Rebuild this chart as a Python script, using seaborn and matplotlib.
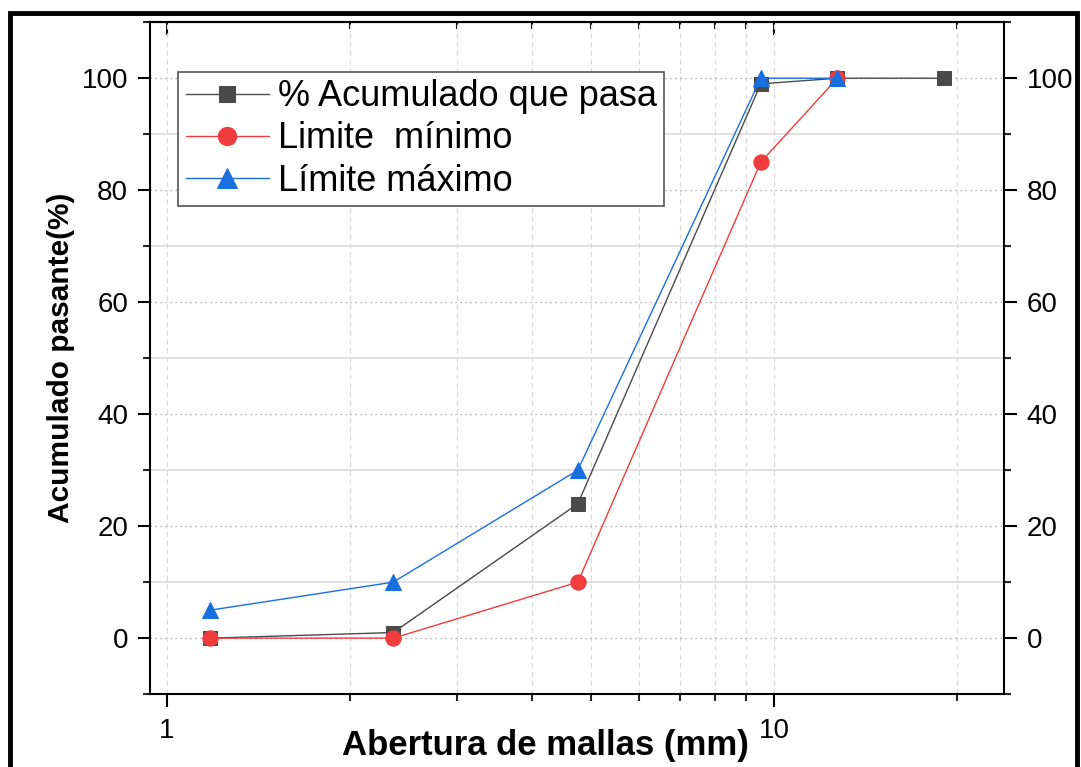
import matplotlib
matplotlib.use("Agg")
import matplotlib.pyplot as plt
import matplotlib.ticker as mticker
from matplotlib.patches import Rectangle
import seaborn as sns

# Data
abertura = [1.18, 2.36, 4.75, 9.5, 12.7, 19.0]
acumulado = [0, 1, 24, 99, 100, 100]
abertura_lim = [1.18, 2.36, 4.75, 9.5, 12.7]
lim_min = [0, 0, 10, 85, 100]
lim_max = [5, 10, 30, 100, 100]
yticks = [0, 20, 40, 60, 80, 100]

sns.set_theme(style="white")
plt.rcParams['font.family'] = ['Liberation Sans', 'DejaVu Sans']
plt.rcParams['text.color'] = 'black'
plt.rcParams['axes.labelcolor'] = 'black'

fig = plt.figure(figsize=(10.81, 7.67), dpi=100)
ax = fig.add_axes([0.139, 0.095, 0.790, 0.876])

c_blk, c_red, c_blu = '#4a4a4a', '#f03c3c', '#1a6fdf'

sns.lineplot(x=abertura, y=acumulado, ax=ax, color=c_blk, marker='s', markersize=10,
             markeredgecolor=c_blk, linewidth=1, label='% Acumulado que pasa', zorder=3)
sns.lineplot(x=abertura_lim, y=lim_min, ax=ax, color=c_red, marker='o', markersize=11,
             markeredgecolor=c_red, linewidth=1, label='Limite  mínimo', zorder=4)
sns.lineplot(x=abertura_lim, y=lim_max, ax=ax, color=c_blu, marker='^', markersize=12,
             markeredgecolor=c_blu, linewidth=1, label='Límite máximo', zorder=5)

ax.set_xscale('log')
ax.set_xlim(0.94, 23.9)
ax.set_ylim(-10, 110)
ax.set_yticks(yticks)
ax.yaxis.set_minor_locator(mticker.MultipleLocator(10))
ax.xaxis.set_major_locator(mticker.LogLocator(base=10, numticks=10))
ax.xaxis.set_minor_locator(mticker.LogLocator(base=10, subs=range(2, 10), numticks=10))
ax.xaxis.set_major_formatter(mticker.FuncFormatter(lambda v, p: f"{v:g}"))
ax.xaxis.set_minor_formatter(mticker.NullFormatter())

# grids
ax.grid(which='major', axis='y', color='#9a9a9a', linestyle=(0, (1, 3)), linewidth=0.9)
ax.grid(which='minor', axis='y', color='#dddddd', linestyle='-', linewidth=1.2)
ax.grid(which='minor', axis='x', color='#dadada', linestyle=(0, (4, 3)), linewidth=0.9)
ax.grid(which='major', axis='x', color='#dadada', linestyle=(0, (4, 3)), linewidth=0.9)
ax.set_axisbelow(True)

for s in ax.spines.values():
    s.set_visible(True)
    s.set_color('black')
    s.set_linewidth(1.5)

ax.tick_params(axis='both', which='major', direction='out', length=9, width=1.5,
               labelsize=20, colors='black', left=True, right=True, bottom=True,
               labelright=True, pad=7)
ax.tick_params(axis='both', which='minor', direction='out', length=5, width=1.5,
               left=True, right=True, bottom=True)
ax.tick_params(axis='x', which='major', pad=8)

top = ax.secondary_xaxis('top')
top.xaxis.set_major_locator(mticker.LogLocator(base=10, numticks=10))
top.xaxis.set_minor_locator(mticker.LogLocator(base=10, subs=range(2, 10), numticks=10))
top.xaxis.set_major_formatter(mticker.NullFormatter())
top.xaxis.set_minor_formatter(mticker.NullFormatter())
top.tick_params(which='major', direction='in', length=9, width=1.5, colors='black')
top.tick_params(which='minor', direction='in', length=5, width=1.5, colors='black')
top.spines['top'].set_linewidth(1.5)

ax.set_xlabel('Abertura de mallas (mm)', fontsize=25, fontweight='bold', color='black')
ax.xaxis.set_label_coords(0.4625, -0.052)
ax.set_ylabel('Acumulado pasante(%)', fontsize=21.5, fontweight='bold', labelpad=5,
              color='black')

leg = ax.legend(loc='upper left', bbox_to_anchor=(0.033, 0.926), fontsize=26,
                frameon=True, fancybox=False, edgecolor='#555555', framealpha=1,
                borderpad=0.2, labelspacing=0.2, handlelength=2.3, handletextpad=0.25,
                borderaxespad=0, markerscale=1.2, labelcolor='black')
leg.get_frame().set_linewidth(1.2)

fig.patches.append(Rectangle((0.009, -0.05), 0.987, 1.033, transform=fig.transFigure,
                             fill=False, edgecolor='black', linewidth=3.5))

fig.savefig('out.png', dpi=100)
